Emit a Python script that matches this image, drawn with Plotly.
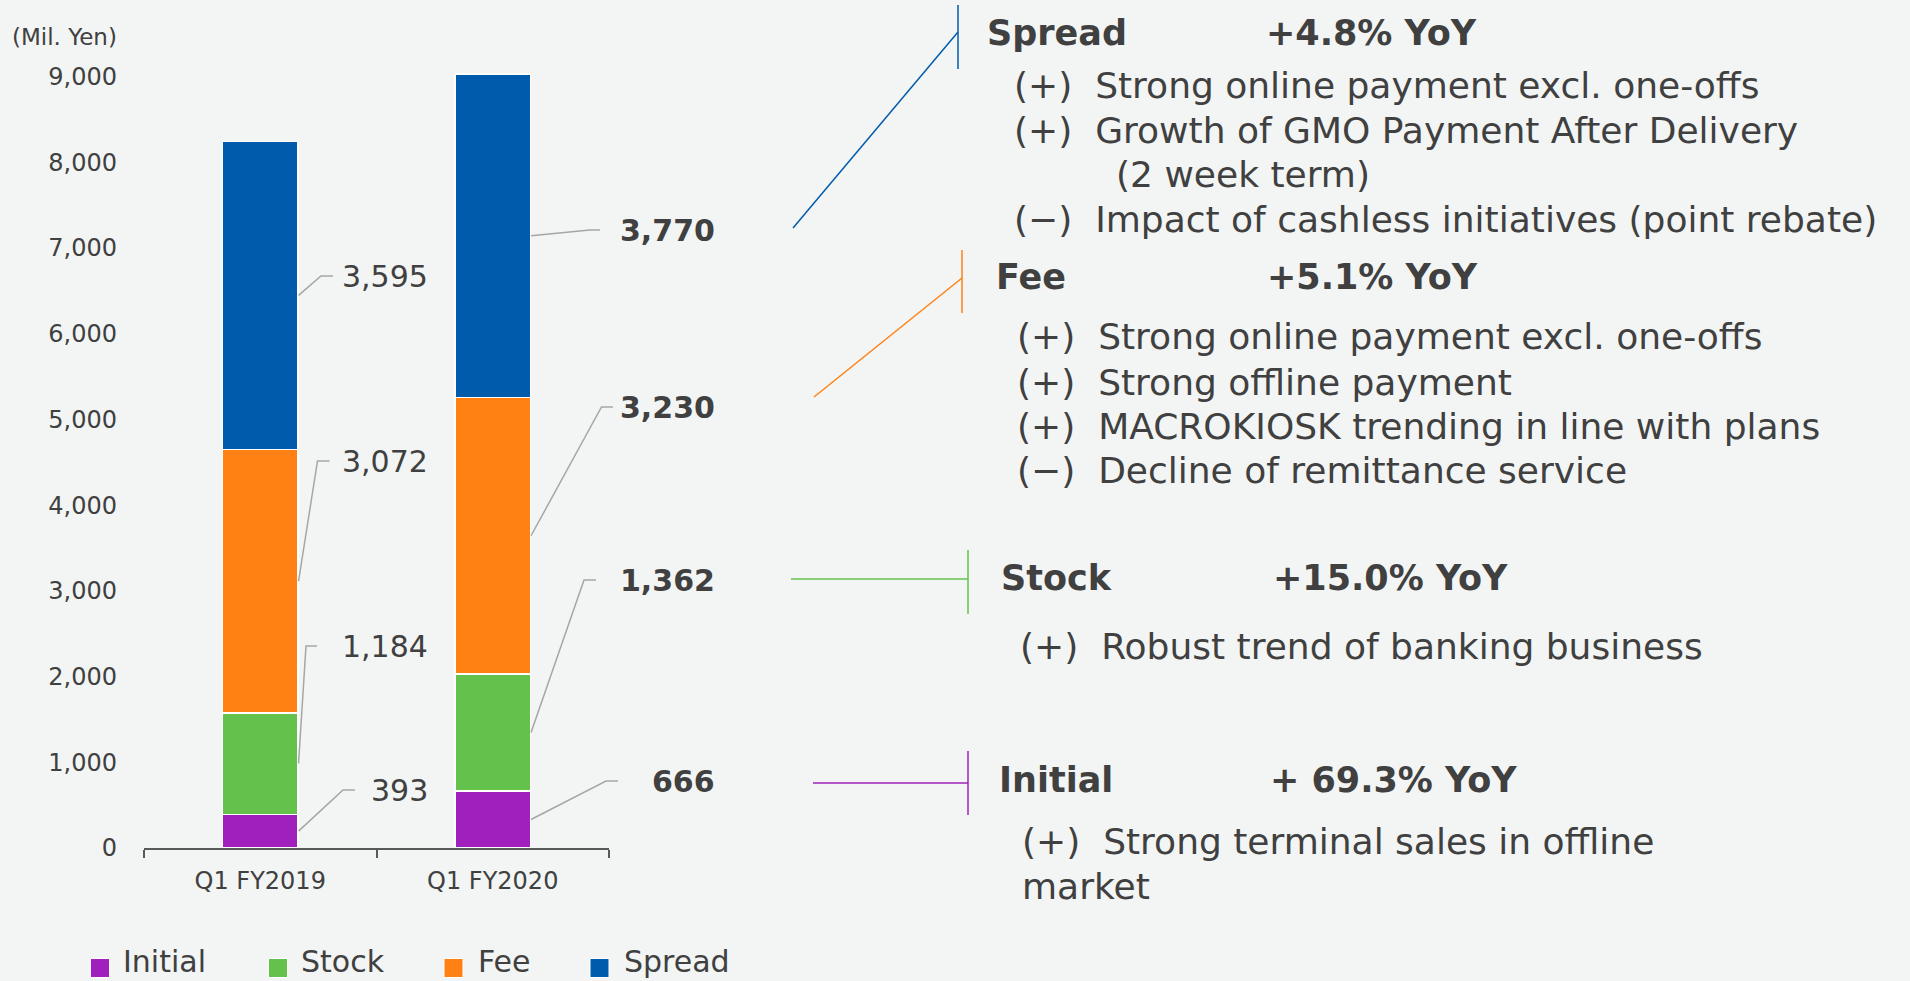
import plotly.graph_objects as go

# ---------------- data ----------------
CATEGORIES = ["Q1 FY2019", "Q1 FY2020"]
SERIES = ["Initial", "Stock", "Fee", "Spread"]
INITIAL = [393, 666]
STOCK = [1184, 1362]
FEE = [3072, 3230]
SPREAD = [3595, 3770]
Y_TICKS = [0, 1000, 2000, 3000, 4000, 5000, 6000, 7000, 8000, 9000]
UNIT_LABEL = "(Mil. Yen)"

HEADINGS = ["Spread", "Fee", "Stock", "Initial"]
GROWTH = ["+4.8% YoY", "+5.1% YoY", "+15.0% YoY", "+ 69.3% YoY"]
SPREAD_NOTES = ["(+)\u00a0\u00a0Strong online payment excl. one-offs",
                "(+)\u00a0\u00a0Growth of GMO Payment After Delivery",
                "(2 week term)",
                "(\u2212)\u00a0\u00a0Impact of cashless initiatives (point rebate)"]
FEE_NOTES = ["(+)\u00a0\u00a0Strong online payment excl. one-offs",
             "(+)\u00a0\u00a0Strong offline payment",
             "(+)\u00a0\u00a0MACROKIOSK trending in line with plans",
             "(\u2212)\u00a0\u00a0Decline of remittance service"]
STOCK_NOTES = ["(+)\u00a0\u00a0Robust trend of banking business"]
INITIAL_NOTES = ["(+)\u00a0\u00a0Strong terminal sales in offline", "market"]

# ---------------- style / layout ----------------
W, H = 1910, 981
BG = "#F3F5F4"
TXT = "#404040"
FONT = "DejaVu Sans"
COLORS = {"Initial": "#A020BE", "Stock": "#64C24C", "Fee": "#FF8114", "Spread": "#005BAC"}
PLOT_L, PLOT_R, PLOT_B, PLOT_T = 144, 609, 848, 68
Y_MAX = 9100
BARGAP = 0.675

values = {"Initial": INITIAL, "Stock": STOCK, "Fee": FEE, "Spread": SPREAD}

catw = (PLOT_R - PLOT_L) / len(CATEGORIES)
barw = catw * (1 - BARGAP)


def px_y(v):
    return PLOT_B - v * (PLOT_B - PLOT_T) / Y_MAX


def bar_right(i):
    return PLOT_L + (i + 0.5) * catw + barw / 2


fig = go.Figure()
for s in SERIES:
    fig.add_trace(go.Bar(
        x=CATEGORIES, y=values[s], name=s,
        marker=dict(color=COLORS[s], line=dict(color="white", width=1.5)),
        showlegend=False, hoverinfo="skip", xaxis="x", yaxis="y"))

annotations = []


def add_text(x, y, text, size, bold=False, anchor="left", color=TXT):
    annotations.append(dict(
        x=x, y=y, xref="x2", yref="y2", text=f"<b>{text}</b>" if bold else text,
        showarrow=False, xanchor=anchor, yanchor="middle",
        font=dict(family=FONT, size=size, color=color)))


# data labels with leader lines (label anchor positions)
LABEL_RIGHT = [430, 717]
LABEL_Y = [[790, 646, 461, 276], [781, 580, 407, 230]]
ELBOW_X = [[343, 306, 317.5, 321], [606, 584, 601.5, 590]]
ELBOW_END_X = [[355, 317, 329.5, 333], [618, 596, 613, 600]]

lx, ly = [], []
for i in range(len(CATEGORIES)):
    cum = 0
    for k, s in enumerate(SERIES):
        v = values[s][i]
        mid = cum + v / 2
        cum += v
        lx += [bar_right(i) + 0.5, ELBOW_X[i][k], ELBOW_END_X[i][k], None]
        ly += [px_y(mid), LABEL_Y[i][k], LABEL_Y[i][k], None]
        add_text(LABEL_RIGHT[i], LABEL_Y[i][k], f"{v:,}", 30, bold=(i == 1), anchor="right")

fig.add_trace(go.Scatter(x=lx, y=ly, mode="lines", line=dict(color="#A6A6A6", width=1.5),
                         xaxis="x2", yaxis="y2", showlegend=False, hoverinfo="skip",
                         cliponaxis=False))

# connector brackets for the commentary
BRACKETS = {
    "Spread": dict(vx=958, vy=(5, 69), line=((793, 228), (958, 32))),
    "Fee": dict(vx=962, vy=(250, 313), line=((814, 397), (962, 278))),
    "Stock": dict(vx=968, vy=(550, 614), line=((791, 579), (968, 579))),
    "Initial": dict(vx=968, vy=(751, 815), line=((813, 783), (968, 783))),
}
for s, b in BRACKETS.items():
    (x0, y0), (x1, y1) = b["line"]
    fig.add_trace(go.Scatter(
        x=[b["vx"], b["vx"], None, x0, x1], y=[b["vy"][0], b["vy"][1], None, y0, y1],
        mode="lines", line=dict(color=COLORS[s], width=1.5), xaxis="x2", yaxis="y2",
        showlegend=False, hoverinfo="skip", cliponaxis=False))

# headings
HEAD_X = [985, 994, 999, 997]
HEAD_Y = [33, 277, 578, 780]
GROWTH_X = [1264, 1265, 1271, 1268]
for k in range(4):
    add_text(HEAD_X[k], HEAD_Y[k], HEADINGS[k], 35, bold=True)
    add_text(GROWTH_X[k], HEAD_Y[k], GROWTH[k], 35, bold=True)

# notes
for t, x, y in zip(SPREAD_NOTES, [1012, 1012, 1114, 1012], [85, 130, 174, 219]):
    add_text(x, y, t, 36)
for t, y in zip(FEE_NOTES, [336, 382, 426, 470]):
    add_text(1015, y, t, 36)
for t, y in zip(STOCK_NOTES, [646]):
    add_text(1018, y, t, 36)
for t, y in zip(INITIAL_NOTES, [841, 886]):
    add_text(1020, y, t, 36)

# unit label
add_text(10, 37, UNIT_LABEL, 23)

# legend (manual)
LEG_SQ_X = [100, 278, 453.5, 599.5]
LEG_TX_X = [121, 299, 476, 621.5]
LEG_Y = 961
fig.add_trace(go.Scatter(
    x=LEG_SQ_X, y=[968] * 4, mode="markers", xaxis="x2", yaxis="y2",
    marker=dict(symbol="square", size=19, color=[COLORS[s] for s in SERIES],
                line=dict(color="white", width=1)),
    showlegend=False, hoverinfo="skip", cliponaxis=False))
for s, x in zip(SERIES, LEG_TX_X):
    add_text(x, LEG_Y, s, 30)

fig.update_layout(
    width=W, height=H, autosize=False,
    margin=dict(l=0, r=0, t=0, b=0, pad=0, autoexpand=False),
    paper_bgcolor=BG, plot_bgcolor="rgba(0,0,0,0)",
    barmode="stack", bargap=BARGAP,
    showlegend=False,
    xaxis=dict(domain=[PLOT_L / W, PLOT_R / W], type="category", anchor="y",
               showline=True, linecolor="#595959", linewidth=1.5,
               ticks="outside", tickson="boundaries", ticklen=8, tickcolor="#595959",
               tickwidth=1.5, ticklabelstandoff=10, automargin=False,
               tickfont=dict(family=FONT, size=24, color=TXT),
               showgrid=False, zeroline=False, fixedrange=True),
    yaxis=dict(domain=[(H - PLOT_B) / H, (H - PLOT_T) / H], range=[0, Y_MAX], anchor="x",
               tickvals=Y_TICKS, tickformat=",", ticks="", ticklabelstandoff=26,
               automargin=False,
               tickfont=dict(family=FONT, size=24, color=TXT),
               showgrid=False, zeroline=False, showline=False, fixedrange=True),
    xaxis2=dict(domain=[0, 1], range=[0, W], anchor="y2", visible=False, fixedrange=True,
                automargin=False),
    yaxis2=dict(domain=[0, 1], range=[H, 0], anchor="x2", visible=False, fixedrange=True,
                automargin=False),
    annotations=annotations,
)

fig.write_html(
    "out.html",
    config={"displayModeBar": False},
    post_script="document.documentElement.style.margin='0';"
                "document.body.style.margin='0';document.body.style.padding='0';"
                "document.body.style.overflow='hidden';"
                "document.body.style.background='" + BG + "';",
)
